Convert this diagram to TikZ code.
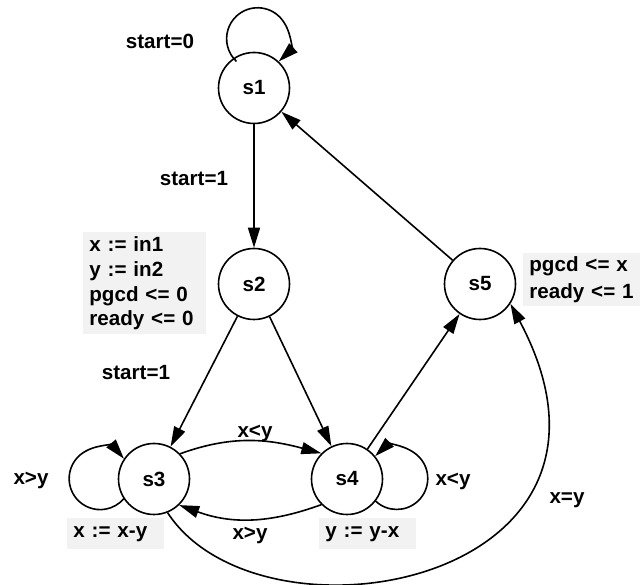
\documentclass[tikz,border=0pt]{standalone}
\usepackage{fontspec}
\setmainfont{Liberation Sans}
\usetikzlibrary{arrows.meta}
\definecolor{notegray}{RGB}{242,242,242}
\newcommand\diagfont{\fontsize{10.3bp}{12.35bp}\selectfont\bfseries}
\newcommand\widefont{\fontsize{10.3bp}{13.5bp}\selectfont\bfseries}
\tikzset{
  state/.style={circle,draw,line width=0.8bp,minimum size=35.5bp,inner sep=0pt,font=\diagfont},
  trans/.style={-{Triangle[length=10bp,width=6bp]},line width=0.8bp},
  selftrans/.style={{Triangle[length=10bp,width=6bp]}-,line width=0.8bp},
  cond/.style={inner sep=0pt,font=\diagfont},
  note/.style={fill=notegray,anchor=north west,align=left,inner xsep=3bp,inner ysep=0pt,font=\diagfont}
}
\begin{document}
\begin{tikzpicture}[x=0.5bp,y=0.5bp]
\useasboundingbox (0,0) rectangle (640,585);
\node[state] (s1) at (254,497) {s1};
\node[state] (s2) at (254,301) {s2};
\node[state] (s5) at (480,301) {s5};
\node[state] (s3) at (154,106) {s3};
\node[state] (s4) at (347,106) {s4};
% self loops, drawn from their arrow end
\draw[selftrans] (s1.47) arc[start angle=-47,end angle=227,radius=31];
\draw[selftrans] (s3.146) arc[start angle=40,end angle=320,radius=31];
\draw[selftrans] (s4.39) arc[start angle=134,end angle=-134,radius=31];
\draw[trans] (s1) -- (s2);
\draw[trans] (s2) -- (s3);
\draw[trans] (s2) -- (s4);
\draw[trans] (s4) -- (s5);
\draw[trans] (s5) -- (s1);
\draw[trans] (s3.44) to[out=20,in=165] (s4.135);
\draw[trans] (s4.225) to[out=200,in=-20] (s3.-46);
\draw[trans] (s3.-68) .. controls +(-57:170) and +(-62:319) .. (s5.-33);
\node[cond] (c11) at (160,544) {start=0};
\node[cond] (c12) at (194,406) {start=1};
\node[cond] (c23) at (136,212) {start=1};
\node[cond] (c33) at (31,105) {x>y};
\node[cond] (c34) at (255,152) {x<y};
\node[cond] (c43) at (250,50) {x>y};
\node[cond] (c44) at (453,104) {x<y};
\node[cond] (c35) at (567,85) {x=y};
\node[note,text width=55.5bp,minimum height=51bp] (n2) at (83,353) {x := in1\\ y := in2\\ pgcd <= 0\\ ready <= 0};
\node[note,text width=52.5bp,minimum height=26.5bp,font=\widefont] (n5) at (523,332) {pgcd <= x\\ ready <= 1};
\node[note,text width=42.5bp,minimum height=15.5bp] (n3) at (67,67) {x := x-y};
\node[note,text width=42.5bp,minimum height=15.5bp] (n4) at (319,67) {y := y-x};
\end{tikzpicture}
\end{document}
